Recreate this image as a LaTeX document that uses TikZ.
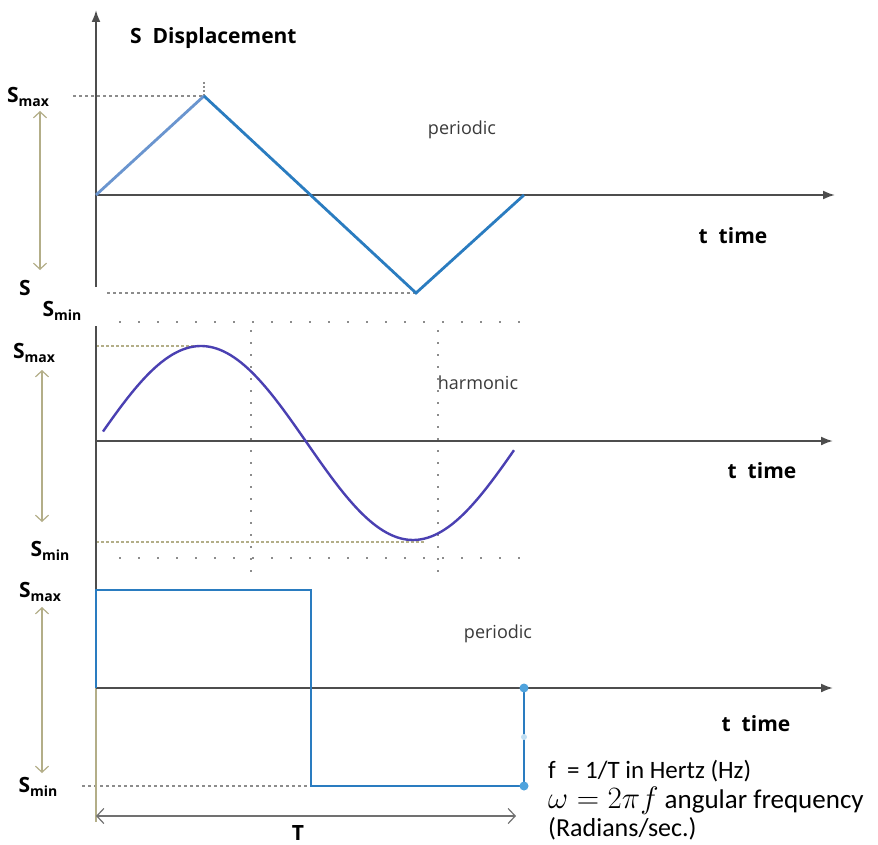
\RequirePackage{fix-cm}
\documentclass[tikz,border=0pt]{standalone}
\usepackage{fontspec}
\setmainfont{Open Sans}
\newfontfamily\calib{Carlito}
\usetikzlibrary{arrows.meta}
\definecolor{axisgray}{HTML}{4D4D4D}
\definecolor{wblue}{HTML}{2A7CC0}
\definecolor{wlight}{HTML}{6A95CF}
\definecolor{sinecol}{HTML}{4A40B2}
\definecolor{olivec}{HTML}{B3AE88}
\definecolor{dotgray}{HTML}{8C8C8C}
\definecolor{dotblue}{HTML}{4FA3DD}
\definecolor{textgray}{HTML}{3A3A3A}
\newcommand{\sub}[2]{#1\raisebox{-0.35ex}{\fontsize{14}{14}\selectfont #2}}
\begin{document}
\begin{tikzpicture}[x=1pt,y=-1pt,
  axis/.style={draw=axisgray, line width=2pt, -{Latex[length=12pt,width=9pt]}},
  plainaxis/.style={draw=axisgray, line width=2pt},
  wave/.style={draw=wblue, line width=2.8pt, line join=miter},
  amp/.style={draw=olivec, line width=1.2pt, {Straight Barb[length=6pt,width=13pt]}-{Straight Barb[length=6pt,width=13pt]}},
  guide/.style={draw=dotgray, line width=1.2pt, dash pattern=on 3pt off 3pt},
  oliveguide/.style={draw=olivec, line width=1.2pt, dash pattern=on 3pt off 2pt},
  gridh/.style={draw=dotgray, line width=1.6pt, dash pattern=on 1.6pt off 17.4pt},
  gridv/.style={draw=dotgray, line width=1.6pt, dash pattern=on 1.6pt off 10.4pt},
  lbl/.style={inner sep=0pt, font=\bfseries\fontsize{21}{24}\selectfont},
  title/.style={inner sep=0pt, font=\bfseries\fontsize{21}{24}\selectfont},
  note/.style={inner sep=0pt, text=textgray, font=\fontsize{18}{20}\selectfont},
  formula/.style={inner sep=0pt, anchor=base west, font=\calib\fontsize{26}{30}\selectfont}]
\useasboundingbox (0,0) rectangle (878,845);
\fill[white] (0,0) rectangle (878,845);

% ---------- top panel ----------
\coordinate (v1b) at (96,287);
\coordinate (v1t) at (96,10);
\coordinate (O1) at (96,195);
\coordinate (h1) at (835,195);
\coordinate (p1) at (204,96);
\coordinate (m1) at (416,293);
\coordinate (e1) at (524,195);
\coordinate (smax1) at (73,96);
\coordinate (smin1) at (107,293);
\coordinate (tk1) at (204,82);
\coordinate (a1t) at (40,111);
\coordinate (a1b) at (40,270);

\draw[guide] (smax1) -- (p1);
\draw[draw=dotgray, line width=1.2pt, dash pattern=on 2pt off 2pt] (tk1) -- (p1);
\draw[guide] (smin1) -- (m1);
\draw[axis] (v1b) -- (v1t);
\draw[axis] (O1) -- (h1);
\draw[draw=wlight, line width=2.8pt] (O1) -- (p1);
\draw[wave] (p1) -- (m1) -- (e1);
\draw[amp] (a1t) -- (a1b);

\node[title, anchor=west] (disp) at (130,38) {S\ \ Displacement};
\node[note] (per1) at (462,130) {periodic};
\node[title] (tt1) at (733,236) {t\ \ time};
\node[lbl] (smaxl1) at (28,97) {\sub{S}{max}};
\node[lbl] (sl1) at (25,288) {S};
\node[lbl] (sminl1) at (62,311) {\sub{S}{min}};

% ---------- middle panel ----------
\coordinate (v2t) at (96,326);
\coordinate (v2b) at (96,590);
\coordinate (O2) at (96,441);
\coordinate (h2) at (833,441);
\coordinate (g1a) at (119,322);
\coordinate (g1b) at (520,322);
\coordinate (g2a) at (119,558);
\coordinate (g2b) at (520,558);
\coordinate (g3a) at (251,330);
\coordinate (g3b) at (251,576);
\coordinate (g4a) at (438,330);
\coordinate (g4b) at (438,576);
\coordinate (ms1) at (203,346);
\coordinate (ms2) at (425,542);
\coordinate (a2t) at (42,370);
\coordinate (a2b) at (42,522);

\draw[gridh] (g1a) -- (g1b);
\draw[gridh] (g2a) -- (g2b);
\draw[gridv] (g3a) -- (g3b);
\draw[gridv] (g4a) -- (g4b);
\draw[oliveguide] (96,346) -- (ms1);
\draw[oliveguide] (96,542) -- (ms2);
\draw[plainaxis] (v2t) -- (v2b);
\draw[axis] (O2) -- (h2);
\draw[draw=sinecol, line width=2.4pt] plot[domain=103:514, samples=120, smooth]
  (\x, {443 - 97*sin(0.84906*(\x-95))});
\draw[amp] (a2t) -- (a2b);

\node[lbl] (smaxl2) at (34,353) {\sub{S}{max}};
\node[note] (harm) at (478,383) {harmonic};
\node[lbl] (sminl2) at (50,551) {\sub{S}{min}};
\node[title] (tt2) at (762,471) {t\ \ time};

% ---------- bottom panel ----------
\coordinate (O3) at (96,688);
\coordinate (h3) at (833,688);
\coordinate (q1) at (96,590);
\coordinate (q2) at (311,590);
\coordinate (q3) at (311,786);
\coordinate (q4) at (524,786);
\coordinate (q5) at (524,688);
\coordinate (smin3) at (82,786);
\coordinate (ob) at (96,822);
\coordinate (Ta) at (96,816);
\coordinate (Tb) at (516,816);
\coordinate (a3t) at (42,607);
\coordinate (a3b) at (42,773);

\draw[guide] (smin3) -- (q3);
\draw[draw=olivec, line width=1.2pt] (O3) -- (ob);
\draw[axis] (O3) -- (h3);
\draw[wave] (O3) -- (q1) -- (q2) -- (q3) -- (q4) -- (q5);
\fill[dotblue] (q5) circle (4.5pt);
\fill[dotblue] (q4) circle (4.5pt);
\fill[dotblue!35] (524,737) circle (3pt);
\draw[draw=axisgray!80, line width=1.2pt, {Straight Barb[length=7pt,width=15pt]}-{Straight Barb[length=7pt,width=15pt]}] (Ta) -- (Tb);
\draw[amp] (a3t) -- (a3b);

\node[lbl] (smaxl3) at (40,592) {\sub{S}{max}};
\node[note] (per3) at (498,634) {periodic};
\node[lbl] (sminl3) at (38,787) {\sub{S}{min}};
\node[title] (tt3) at (756,724) {t\ \ time};
\node[lbl, anchor=base] (Tl) at (298,840) {T};
\node[formula, font=\calib\fontsize{25}{30}\selectfont] (f1) at (548,778) {f\ \ = 1/T in Hertz (Hz)};
\node[formula] (f2) at (548,808) {\fontsize{31}{34}\selectfont$\omega = 2\pi f$\fontsize{27}{30}\selectfont\ angular frequency};
\node[formula, font=\calib\fontsize{26}{30}\selectfont] (f3) at (548,836) {(Radians/sec.)};
\end{tikzpicture}
\end{document}
